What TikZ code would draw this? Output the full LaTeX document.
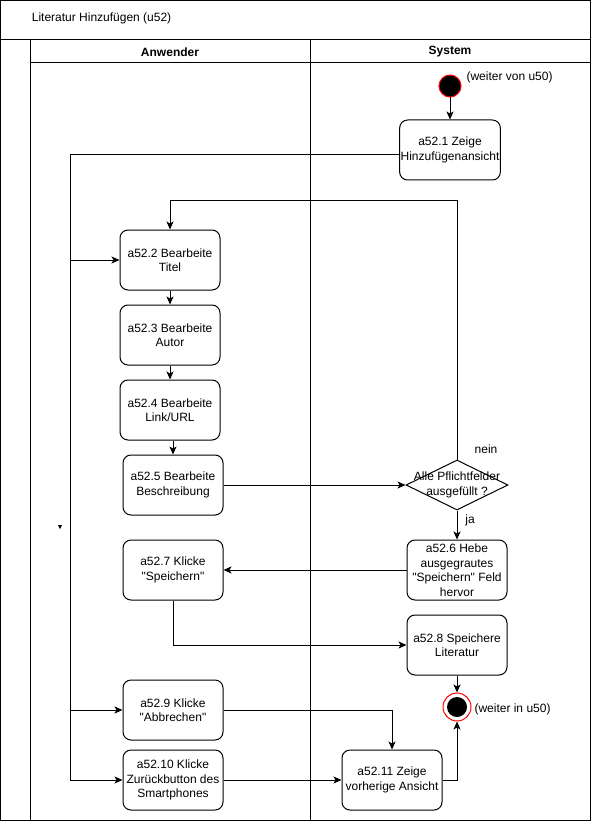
\documentclass[tikz,border=0pt]{standalone}
\usepackage{fontspec}
\setmainfont{Liberation Sans}
\usetikzlibrary{arrows.meta,shapes.geometric}
\newcommand{\qq}[1]{\textquotedbl#1\textquotedbl}

\begin{document}
\begin{tikzpicture}[x=1pt,y=-1pt,line width=1pt,
    font=\fontsize{12}{14.5}\selectfont,
    act/.style={draw,rounded corners=8pt,minimum width=100pt,minimum height=60pt,
      inner sep=1pt,align=center},
    arr/.style={-{Stealth[length=8pt,width=7pt,inset=2pt]}},
    lane/.style={font=\fontsize{12}{14.5}\selectfont\bfseries}]
  \useasboundingbox (0,0) rectangle (591,821);
  % swimlanes
  \draw (0.5,0.5) rectangle (590.5,820.5);
  \draw (0,40) -- (591,40);
  \draw (30,40) -- (30,821);
  \draw (310,40) -- (310,821);
  \draw (30,63) -- (591,63);
  \node[anchor=west] (title) at (28,18) {Literatur Hinzufügen (u52)};
  \node[lane] (anw) at (170,52) {Anwender};
  \node[lane] (sys) at (450,52) {System};

  % start and end
  \node[circle,draw=red,fill=black,minimum size=22pt,inner sep=0pt] (start) at (450,86) {};
  \node[anchor=west,inner sep=0pt] (startlbl) at (466,77) {(weiter von u50)};
  \node[circle,draw=red,minimum size=28pt,inner sep=0pt,
    path picture={\fill (path picture bounding box.center) circle (10pt);}] (stop) at (457,707) {};
  \node[anchor=west,inner sep=0pt] (stoplbl) at (474,709) {(weiter in u50)};

  % actions
  \node[act] (a521) at (450,150) {a52.1 Zeige\\Hinzufügenansicht};
  \node[act] (a522) at (170,260) {a52.2 Bearbeite\\Titel};
  \node[act] (a523) at (170,335) {a52.3 Bearbeite\\Autor};
  \node[act] (a524) at (170,410) {a52.4 Bearbeite\\Link/URL};
  \node[act] (a525) at (173,485) {a52.5 Bearbeite\\Beschreibung};
  \node[diamond,draw,minimum width=102pt,minimum height=50pt,inner sep=0pt,
    label={[align=center]center:Alle Pflichtfelder\\ausgefüllt ?}] (chk) at (457,485) {};
  \node (nein) at (486,449) {nein};
  \node (ja) at (470,520) {ja};
  \node[act] (a526) at (457,570) {a52.6 Hebe\\ausgegrautes\\\qq{Speichern} Feld\\hervor};
  \node[act] (a527) at (173,570) {a52.7 Klicke\\\qq{Speichern}};
  \node[act] (a528) at (457,645) {a52.8 Speichere\\Literatur};
  \node[act] (a529) at (173,710) {a52.9 Klicke\\\qq{Abbrechen}};
  \node[act] (a5210) at (173,780) {a52.10 Klicke\\Zurückbutton des\\Smartphones};
  \node[act] (a5211) at (392,780) {a52.11 Zeige\\vorherige Ansicht};

  % flows
  \coordinate (lbus) at (70,780);
  \draw[arr] (start) -- (a521);
  \draw[arr] ([yshift=-5pt]a521.west) -| (lbus) -- (a5210.west);
  \draw[arr] (a522.west -| lbus) -- (a522.west);
  \draw[arr] (a529.west -| lbus) -- (a529.west);
  \draw[arr] (a522) -- (a523);
  \draw[arr] (a523) -- (a524);
  \draw[arr] (a525.north |- a524.south) -- (a525.north);
  \draw[arr] (a525) -- (chk);
  \draw[arr] (chk.north) |- (a522.north |- 0,200) -- (a522.north);
  \draw[arr] (chk) -- (a526);
  \draw[arr] (a526) -- (a527);
  \draw[arr] (a527.south) |- (a528.west);
  \draw[arr] (a528) -- (stop);
  \draw[arr] (a529.east) -| (a5211.north);
  \draw[arr] (a5210) -- (a5211);
  \draw[arr] (a5211.east) -| (stop.south);
  \fill (58,525) -- (62,525) -- (60,529) -- cycle;
\end{tikzpicture}
\end{document}
